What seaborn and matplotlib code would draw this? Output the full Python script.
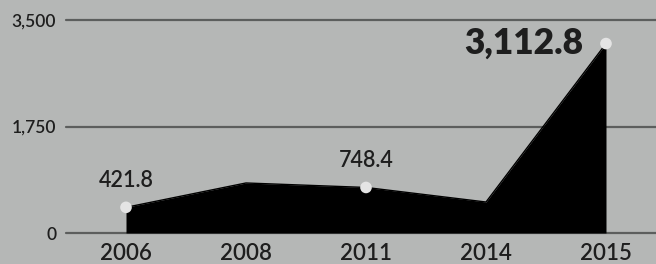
## Area chart, values by year

import matplotlib
matplotlib.use("Agg")
import matplotlib.pyplot as plt
import seaborn as sns
from pandas import DataFrame

#----------------------------------------------------
# DATA
#----------------------------------------------------

years = ["2006", "2008", "2011", "2014", "2015"]
values = [421.8, 822.0, 748.4, 509.0, 3112.8]
labelled = ["2006", "2011", "2015"]
label_texts = ["421.8", "748.4", "3,112.8"]
ytick_values = [0, 1750, 3500]
ytick_labels = ["0", "1,750", "3,500"]

#----------------------------------------------------
# PLOT
#----------------------------------------------------

BG = "#b5b7b6"
GRID = "#5c5e5d"
TXT = "#1e1e1e"

sns.set_theme(style="white")
plt.rcParams["font.family"] = ["Lato", "DejaVu Sans"]

df = DataFrame({"year": years, "value": values})
df["pos"] = range(len(df))

my_fig = plt.figure(figsize=(6.56, 2.64), dpi=100)
my_fig.patch.set_facecolor(BG)
ax = my_fig.add_axes([66 / 656, 31 / 264, 590 / 656, 213 / 264])
ax.set_facecolor(BG)

#gridlines
for v in ytick_values:
    ax.axhline(v, color=GRID, lw=1.6, zorder=0, clip_on=False)

#area
ax.fill_between(df["pos"], 0, df["value"], color="black", lw=0, zorder=2)
sns.lineplot(data=df, x="pos", y="value", color="black", lw=1, ax=ax, zorder=2)

#dots
dots = df[df["year"].isin(labelled)]
sns.scatterplot(data=dots, x="pos", y="value", color="#e4e4e4", s=70,
                edgecolor="none", ax=ax, zorder=3, clip_on=False)

#labels
for (_, row), txt in zip(dots.iterrows(), label_texts):
    if row["year"] == "2015":
        ax.annotate(txt, (row["pos"], row["value"]), xytext=(-16, 0),
                    textcoords="offset points", ha="right", va="center",
                    fontsize=25.5, fontweight="heavy", color=TXT)
    else:
        ax.annotate(txt, (row["pos"], row["value"]), xytext=(0, 12),
                    textcoords="offset points", ha="center", va="bottom",
                    fontsize=15.5, fontweight="semibold", color=TXT)

ax.set_xlim(-0.5, 4.4167)
ax.set_ylim(0, 3500)
ax.set_xticks(df["pos"])
ax.set_xticklabels(years, fontsize=16, fontweight="semibold", color=TXT)
ax.set_yticks(ytick_values)
ax.set_yticklabels(ytick_labels, fontsize=12.5, fontweight="semibold", color=TXT)
ax.tick_params(axis="x", length=0, pad=7)
ax.tick_params(axis="y", length=0, pad=7)
ax.set_xlabel("")
ax.set_ylabel("")
sns.despine(ax=ax, left=True, bottom=True)

my_fig.savefig("out.png", dpi=100, facecolor=BG)
